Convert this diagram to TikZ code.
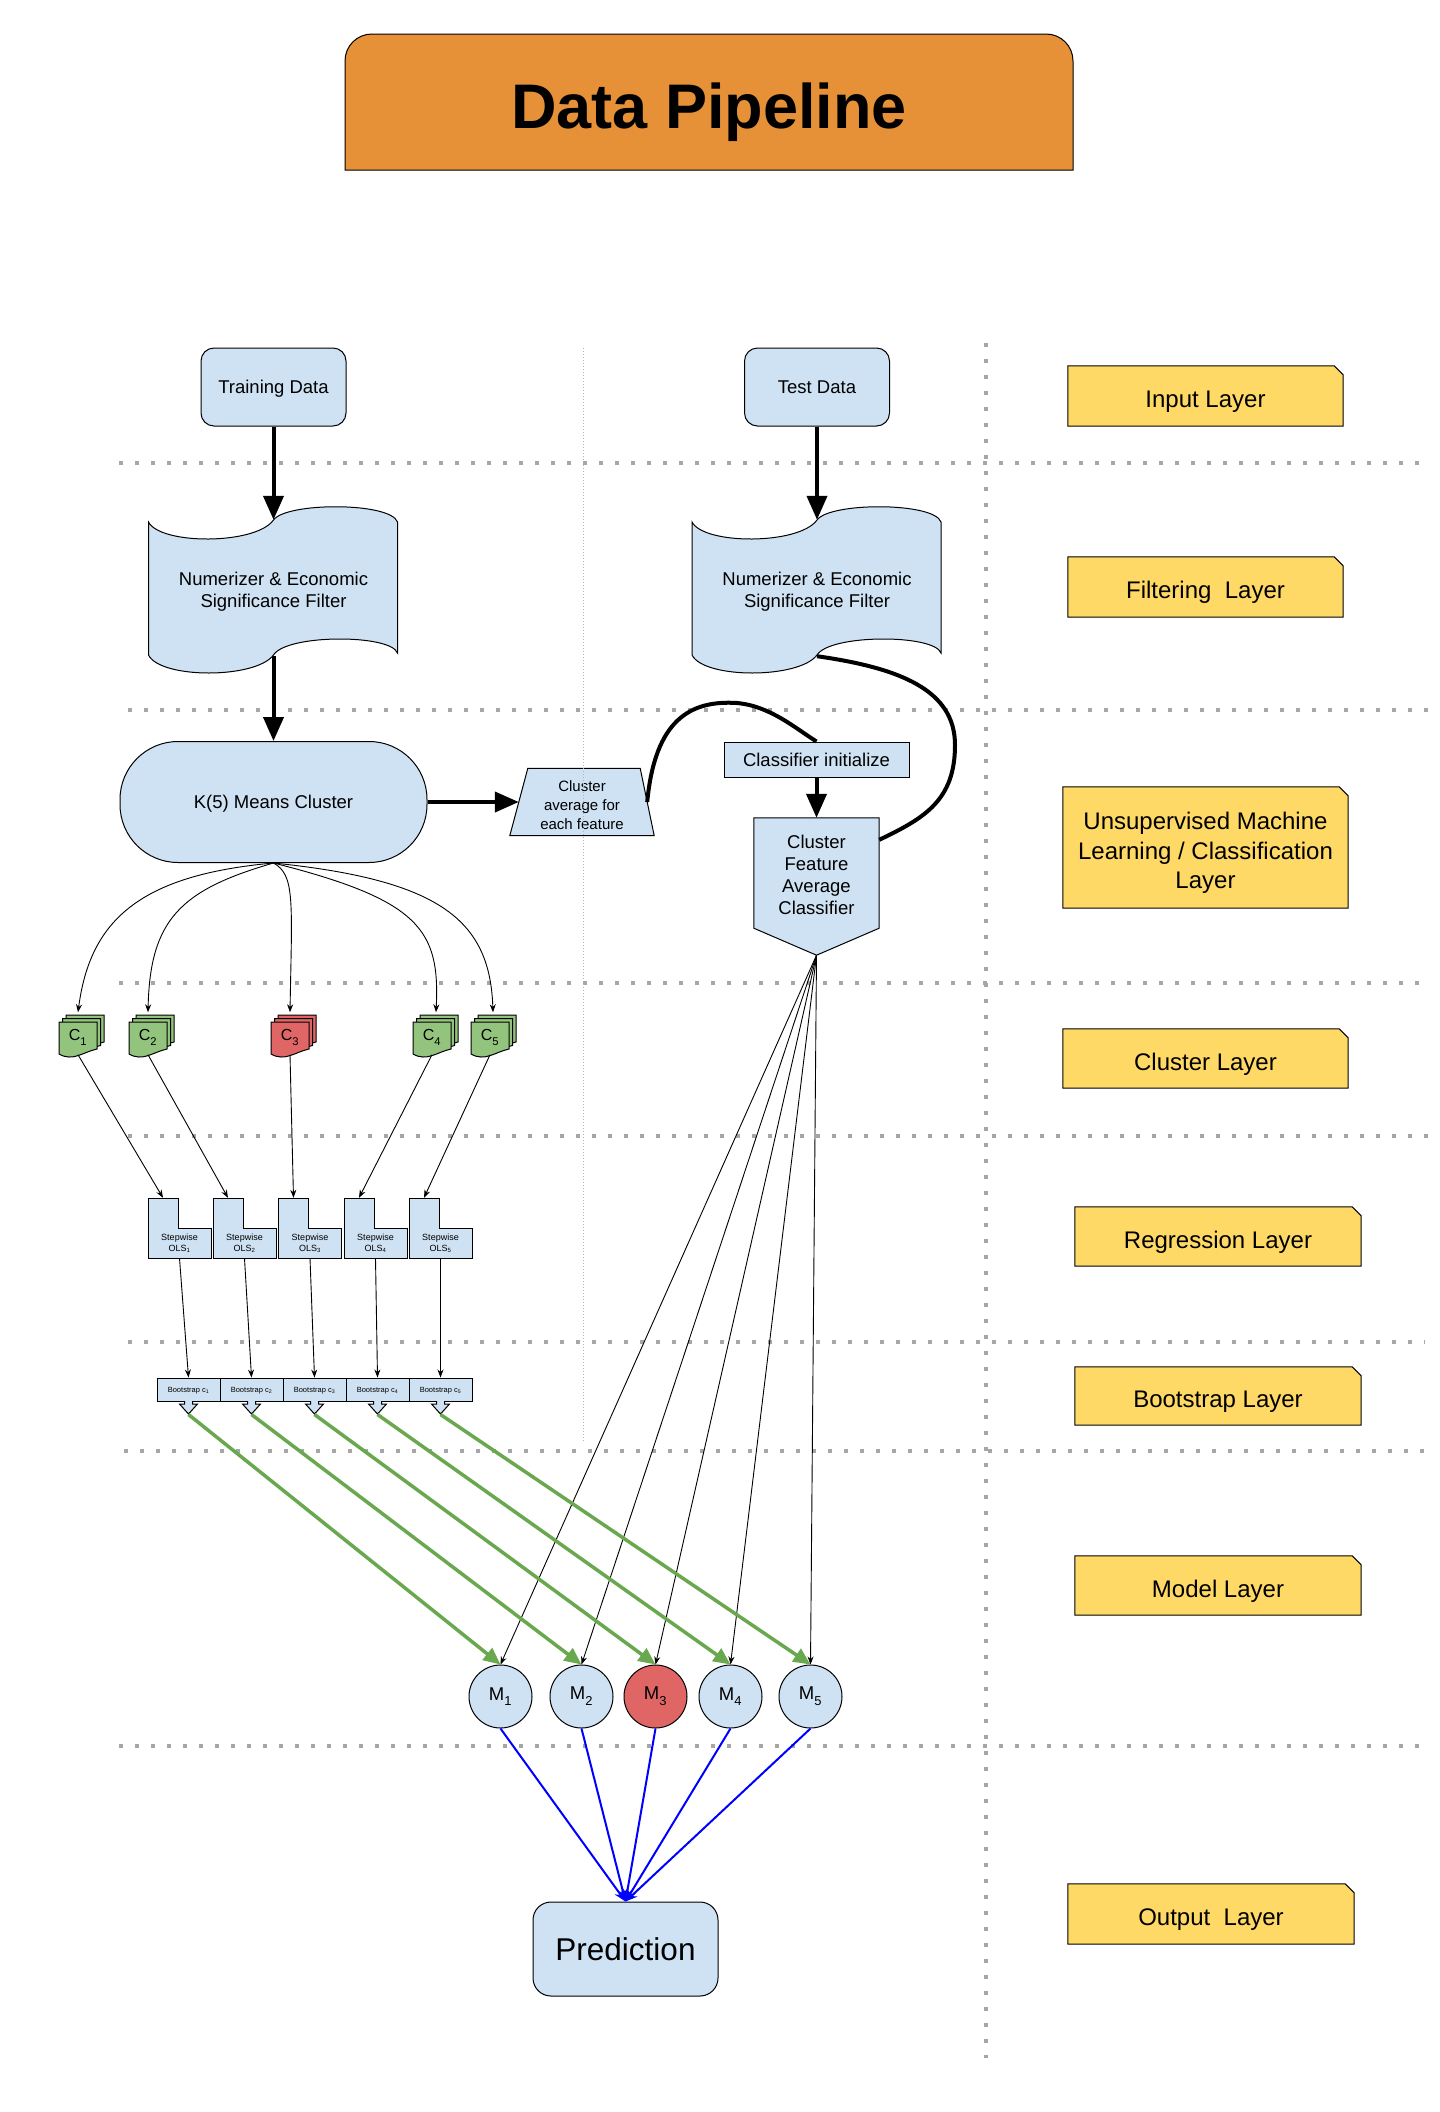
\documentclass[tikz,border=0pt]{standalone}
\usepackage{fontspec}
\setmainfont{Liberation Sans}
\usetikzlibrary{arrows.meta,backgrounds}

\definecolor{paleblue}{HTML}{CFE2F3}
\definecolor{titleorange}{HTML}{E69138}
\definecolor{tagyellow}{HTML}{FFD966}
\definecolor{clgreen}{HTML}{93C47D}
\definecolor{clred}{HTML}{E06666}
\definecolor{arrowgreen}{HTML}{6AA84F}
\definecolor{dotgray}{HTML}{A6A6A6}

\newcommand{\FontMain}{\fontsize{18.5pt}{22pt}\selectfont}
\newcommand{\FontTag}{\fontsize{24pt}{29.5pt}\selectfont}
\newcommand{\FontSmall}{\fontsize{15pt}{19pt}\selectfont}
\newcommand{\FontTiny}{\fontsize{9pt}{10.7pt}\selectfont}
\newcommand{\FontMicro}{\fontsize{7.5pt}{9pt}\selectfont}
\newcommand{\FontClust}{\fontsize{16pt}{18pt}\selectfont}
\newcommand{\FontPred}{\fontsize{31.5pt}{38pt}\selectfont}
\newcommand{\FontTitle}{\fontsize{63pt}{75pt}\selectfont\bfseries}
% index set a little lower than a plain subscript
\newcommand{\lowsub}[1]{\raisebox{-0.15em}{\textsubscript{#1}}}

\tikzset{
  shapeline/.style={draw=black, line width=1pt},
  textonly/.style={inner sep=0pt, align=center},
  bluebox/.style={shapeline, fill=paleblue, inner sep=0pt, align=center, font=\FontMain, text depth=0pt},
  tagtext/.style={textonly, font=\FontTag},
  bigdots/.style={draw=dotgray, line width=4pt, dash pattern=on 4pt off 12pt},
  finedots/.style={draw=gray!60, line width=1pt, dash pattern=on 1pt off 2pt},
  thickarrow/.style={draw=black, line width=4pt, -{Triangle[length=24pt,width=20pt]}},
  thickcurve/.style={draw=black, line width=4pt},
  thinarrow/.style={draw=black, line width=0.9pt, -{Stealth[length=8pt,width=6pt]}},
  greenarrow/.style={draw=arrowgreen, line width=3.5pt, -{Triangle[length=17pt,width=15pt]}},
  bluearrow/.style={draw=blue, line width=2pt, -{Stealth[length=12pt,width=9pt]}},
  % wavy tape outline of the filter stages
  pics/tapeshape/.style={code={
    \draw[shapeline, fill=paleblue]
      (-125,-66) .. controls (-113,-43) and (-18,-43) .. (0,-68)
      .. controls (13,-86) and (117,-86) .. (124,-66)
      -- (124,65)
      .. controls (117,46) and (13,46) .. (0,67)
      .. controls (-18,91) and (-113,91) .. (-125,67) -- cycle;
  }},
  % three stacked documents
  pics/docstack/.style={code={
    \foreach \dd in {7,3.5,0}{
      \draw[shapeline, fill=#1, shift={(\dd,-\dd)}]
        (-19,-16) -- (19,-16) -- (19,11)
        .. controls (5,14) and (-5,24) .. (-19,16) -- cycle;
    }
  }},
  % L-shaped card of the regression stage
  pics/lshape/.style={code={
    \draw[shapeline, fill=paleblue]
      (-31.5,-30) -- (-1.5,-30) -- (-1.5,0) -- (31.5,0) -- (31.5,30) -- (-31.5,30) -- cycle;
  }},
  % small block arrow under each bootstrap box
  pics/downtip/.style={code={
    \draw[shapeline, fill=paleblue]
      (-4,0) -- (-4,3) -- (-9,3) -- (0,13) -- (9,3) -- (4,3) -- (4,0);
  }},
}

% yellow layer caption with a clipped top-right corner
\newcommand{\layertag}[6]{%
  \node[textonly, minimum width=#4pt, minimum height=#5pt] (#1) at (#2,#3) {};
  \node[tagtext] (#1t) at (#2,{#3+5.5}) {#6};
  \begin{pgfonlayer}{background}
    \draw[shapeline, fill=tagyellow] (#1.south west) -- (#1.north west)
      -- ([xshift=-9pt]#1.north east) -- ([yshift=-9pt]#1.north east)
      -- (#1.south east) -- cycle;
  \end{pgfonlayer}
}

\begin{document}
\begin{tikzpicture}[x=1pt,y=-1pt]
\useasboundingbox (0,0) rectangle (1440,2112);

% page and layer separators
\begin{pgfonlayer}{background}
  \fill[white] (0,0) rectangle (1440,2112);
  \foreach \yy/\xa/\xb in {463/119/1421, 710/128/1428, 983/119/1425, 1136/128/1430,
                           1342/128/1425, 1451/124/1425, 1746/119/1421}
    \draw[bigdots] (\xa,\yy) -- (\xb,\yy);
  \draw[bigdots] (986,343) -- (986,2058);
\end{pgfonlayer}

% title
\node[textonly, font=\FontTitle, anchor=base] (title) at (709,128) {Data Pipeline};
\begin{pgfonlayer}{background}
  \draw[shapeline, fill=titleorange] (345,170) -- (345,61)
    .. controls (345,46) and (357,34) .. (372,34) -- (1046,34)
    .. controls (1061,34) and (1073,46) .. (1073,61) -- (1073,170) -- cycle;
\end{pgfonlayer}

% inputs
\node[bluebox, rounded corners=13pt, minimum width=145pt, minimum height=78pt] (train) at (273.5,387) {Training Data};
\node[bluebox, rounded corners=13pt, minimum width=145pt, minimum height=78pt] (test) at (817,387) {Test Data};

% filters
\begin{pgfonlayer}{background}
  \pic at (273.5,588) {tapeshape};
  \pic at (817,588) {tapeshape};
\end{pgfonlayer}
\node[textonly, minimum width=249pt, minimum height=136pt] (ftrain) at (273.5,588) {};
\node[textonly, minimum width=249pt, minimum height=136pt] (ftest) at (817,588) {};
\node[textonly, font=\FontMain] (ftraint) at (273.5,592) {Numerizer \& Economic\\Significance Filter};
\node[textonly, font=\FontMain] (ftestt) at (817,592) {Numerizer \& Economic\\Significance Filter};

% clustering and classifier
\node[bluebox, rounded corners=58pt, minimum width=307pt, minimum height=121pt] (kmeans) at (273.5,802) {K(5) Means Cluster};

\node[textonly, minimum width=144pt, minimum height=67pt] (cavg) at (582,802) {};
\begin{pgfonlayer}{background}
  \draw[shapeline, fill=paleblue] (cavg.south west) -- (cavg.south east)
    -- ([xshift=-14pt]cavg.north east) -- ([xshift=18pt]cavg.north west) -- cycle;
\end{pgfonlayer}
\node[textonly, font=\FontSmall] (cavgt) at (582,805) {Cluster\\average for\\each feature};

\node[bluebox, minimum width=185pt, minimum height=35pt] (cinit) at (816.5,759.5) {Classifier initialize};

\node[textonly, minimum width=125pt, minimum height=137pt] (cfac) at (816.5,886.5) {};
\begin{pgfonlayer}{background}
  \draw[shapeline, fill=paleblue] (cfac.north west) -- (cfac.north east)
    -- ([yshift=27pt]cfac.south east) -- (cfac.south) -- ([yshift=27pt]cfac.south west) -- cycle;
\end{pgfonlayer}
\node[textonly, font=\FontMain] (cfactext) at (816.5,875) {Cluster\\Feature\\Average\\Classifier};

% clusters
\foreach \idx/\cx/\col in {1/78/clgreen, 2/148/clgreen, 3/290/clred, 4/432/clgreen, 5/490/clgreen}{
  \begin{pgfonlayer}{background}
    \pic at (\cx,1038) {docstack=\col};
  \end{pgfonlayer}
  \node[textonly, font=\FontClust, minimum width=38pt, minimum height=33pt] (c\idx) at (\cx,1037) {C\lowsub{\idx}};
}

% stepwise regressions
\foreach \idx/\cx in {1/179.5, 2/244.5, 3/310, 4/375.5, 5/440.5}{
  \begin{pgfonlayer}{background}
    \pic at (\cx,1228) {lshape};
  \end{pgfonlayer}
  \node[textonly, minimum width=63pt, minimum height=60pt] (ols\idx) at (\cx,1228) {};
  \node[textonly, font=\FontTiny] (olst\idx) at (\cx,1243) {Stepwise\\OLS\textsubscript{\idx}};
}

% bootstrap samples
\foreach \idx/\cx in {1/188.5, 2/251.5, 3/314.5, 4/377.5, 5/440.5}{
  \node[bluebox, font=\FontMicro, minimum width=63pt, minimum height=23pt] (boot\idx) at (\cx,1389.5) {Bootstrap c\textsubscript{\idx}};
  \pic at (\cx,1401) {downtip};
}

% models
\foreach \idx/\cx/\col in {1/500.5/paleblue, 2/581.5/paleblue, 3/655.5/clred, 4/730.5/paleblue, 5/810.5/paleblue}{
  \node[shapeline, circle, fill=\col, inner sep=0pt, minimum size=63pt, font=\FontMain] (m\idx) at (\cx,1696.5) {M\lowsub{\idx}};
}

% output
\node[bluebox, rounded corners=18pt, minimum width=185pt, minimum height=94pt, font=\FontPred] (pred) at (625.5,1949) {Prediction};

% layer captions
\layertag{tinput}{1205.5}{396}{275}{60}{Input Layer}
\layertag{tfilter}{1205.5}{587}{275}{60}{Filtering\ \ Layer}
\layertag{tunsup}{1205.5}{847.5}{285}{121}{Unsupervised Machine\\Learning / Classification\\Layer}
\layertag{tcluster}{1205.5}{1058.5}{285}{59}{Cluster Layer}
\layertag{tregress}{1218}{1236.5}{286}{59}{Regression Layer}
\layertag{tboot}{1218}{1396}{286}{58}{Bootstrap Layer}
\layertag{tmodel}{1218}{1585.5}{286}{59}{Model Layer}
\layertag{toutput}{1211}{1914}{286}{60}{Output\ \ Layer}

% split between training and test columns
\draw[finedots] (583,348) -- (583,1441);

% main flow
\draw[thickarrow] (train.south) -- (ftrain.north);
\draw[thickarrow] (test.south) -- (ftest.north);
\draw[thickarrow] (ftrain.south) -- (kmeans.north);
\draw[thickarrow] (kmeans.east) -- ([xshift=9pt]cavg.west);
\draw[thickarrow] (cinit.south) -- (cfac.north);
\draw[thickcurve] ([xshift=-7pt]cavg.east) .. controls (655,720) and (690,700) .. (737,703)
  .. controls (770,706) and (795,728) .. (cinit.north);
\draw[thickcurve] (ftest.south) .. controls (900,668) and (955,690) .. (955,745)
  .. controls (955,800) and (925,818) .. ([yshift=-22pt]cfac.north east);

% k-means to clusters
\draw[thinarrow] (kmeans.south) .. controls (140,875) and (90,920) .. ([yshift=8pt]c1.north);
\draw[thinarrow] (kmeans.south) .. controls (180,890) and (150,920) .. ([yshift=8pt]c2.north);
\draw[thinarrow] (kmeans.south) .. controls (295,875) and (292,900) .. ([yshift=8pt]c3.north);
\draw[thinarrow] (kmeans.south) .. controls (420,900) and (440,930) .. ([xshift=4pt,yshift=8pt]c4.north);
\draw[thinarrow] (kmeans.south) .. controls (440,880) and (490,920) .. ([xshift=3pt,yshift=8pt]c5.north);

% per-cluster chain
\foreach \idx in {1,...,5}{
  \draw[thinarrow] ([yshift=-1pt]c\idx.south) -- ([xshift=-16.5pt]ols\idx.north);
  \draw[thinarrow] (ols\idx.south) -- (boot\idx.north);
  \draw[greenarrow] ([yshift=-13pt]boot\idx.south) -- (m\idx.north);
  \draw[thinarrow] (cfac.south) -- (m\idx.north);
  \draw[bluearrow] (m\idx.south) -- (pred.north);
}
\end{tikzpicture}
\end{document}
